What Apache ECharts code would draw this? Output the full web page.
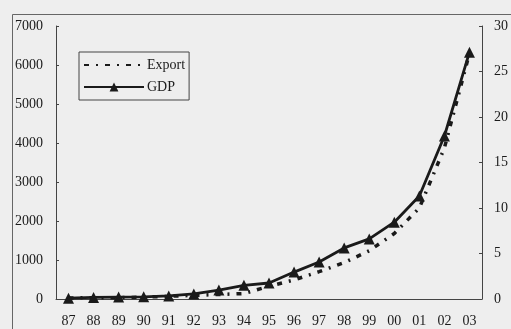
<!DOCTYPE html>
<html>
<head>
<meta charset="utf-8">
<script src="https://cdn.jsdelivr.net/npm/echarts@6/dist/echarts.min.js"></script>
<style>
  html, body { margin: 0; padding: 0; background: #eeeeee; }
  #chart { width: 511px; height: 329px; }
</style>
</head>
<body>
<div id="chart"></div>
<script>
// Years 1987–2003, shown as two-digit labels
const years = ['87','88','89','90','91','92','93','94','95','96','97','98','99','00','01','02','03'];
// GDP, plotted on the left axis
const gdp = [20, 40, 50, 55, 80, 130, 230, 350, 410, 690, 950, 1310, 1540, 1970, 2640, 4180, 6330];
// Export, plotted on the right axis
const exportVals = [0.1, 0.15, 0.15, 0.2, 0.3, 0.4, 0.5, 0.6, 1.4, 2.1, 3.0, 4.0, 5.3, 7.2, 10.0, 16.6, 27.0];

const serif = '"Liberation Serif", "DejaVu Serif", serif';
const ink = '#1a1a1a';
const plain = v => String(v);

const chart = echarts.init(document.getElementById('chart'), null, { renderer: 'canvas' });

chart.setOption({
  backgroundColor: '#eeeeee',
  animation: false,
  graphic: [{
    type: 'rect',
    left: 10, top: 12,
    shape: { width: 520, height: 340 },
    style: { fill: 'none', stroke: '#666', lineWidth: 1 },
    silent: true
  }],
  grid: { left: 56, right: 26, top: 26, bottom: 30 },
  legend: {
    orient: 'vertical',
    left: 79, top: 52,
    itemWidth: 60, itemHeight: 11, itemGap: 8,
    padding: [6, 4, 6, 4],
    borderColor: '#444', borderWidth: 1,
    textStyle: { fontFamily: serif, fontSize: 14, color: ink, padding: [0, 0, 0, -2] },
    data: [
      { name: 'Export', itemStyle: { opacity: 0 } },
      { name: 'GDP' }
    ]
  },
  xAxis: {
    type: 'category',
    data: years,
    boundaryGap: true,
    axisLine: { lineStyle: { color: '#444', width: 1 } },
    axisTick: { inside: true, length: 4, lineStyle: { color: '#444' } },
    axisLabel: { fontFamily: serif, fontSize: 14, color: ink, margin: 15 },
    splitLine: { show: false }
  },
  yAxis: [{
    type: 'value', min: 0, max: 7000, interval: 1000,
    axisLine: { show: true, lineStyle: { color: '#444', width: 1 } },
    axisTick: { show: true, inside: true, length: 3, lineStyle: { color: '#444' } },
    axisLabel: { fontFamily: serif, fontSize: 14, color: ink, margin: 13, formatter: plain },
    splitLine: { show: false }
  }, {
    type: 'value', min: 0, max: 30, interval: 5, position: 'right',
    axisLine: { show: true, lineStyle: { color: '#444', width: 1 } },
    axisTick: { show: true, inside: true, length: 3, lineStyle: { color: '#444' } },
    axisLabel: { fontFamily: serif, fontSize: 14, color: ink, margin: 12, formatter: plain },
    splitLine: { show: false }
  }],
  series: [{
    name: 'Export',
    type: 'line',
    yAxisIndex: 1,
    data: exportVals,
    showSymbol: false,
    symbol: 'none',
    lineStyle: { color: ink, width: 3.5, type: [5, 7, 2, 7] },
    itemStyle: { color: ink },
    z: 2
  }, {
    name: 'GDP',
    type: 'line',
    yAxisIndex: 0,
    data: gdp,
    symbol: 'triangle',
    symbolSize: 11,
    lineStyle: { color: ink, width: 2.8 },
    itemStyle: { color: ink },
    z: 3
  }]
});
</script>
</body>
</html>
